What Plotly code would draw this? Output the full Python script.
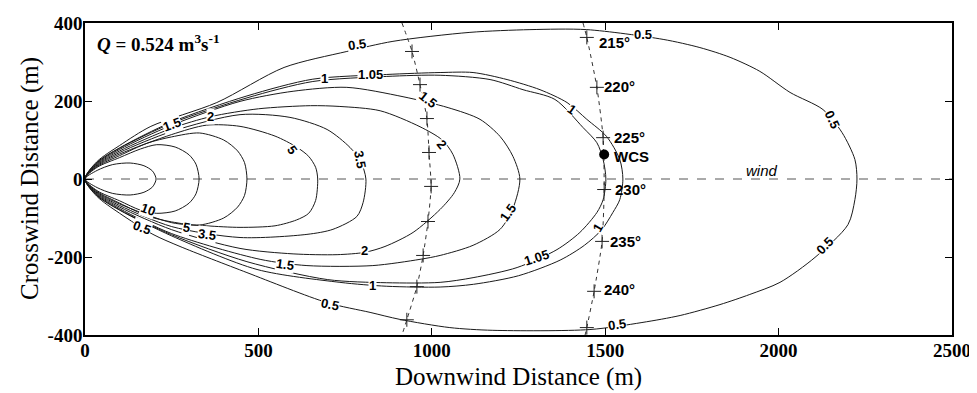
import plotly.graph_objects as go

# ---------------- data ----------------
# contour outlines: (x_upper, y_upper, x_lower, y_lower)
A_xu = [0, 35, 80, 130, 170, 195, 205]
A_yu = [0, 22, 37, 41, 34, 20, 0]
A_xl = [0, 35, 80, 130, 170, 195, 205]
A_yl = [0, -22, -37, -41, -34, -20, 0]

B_xu = [0, 35, 100, 160, 207, 260, 300, 320, 329]
B_yu = [0, 30, 55, 77, 88, 82, 62, 38, 0]
B_xl = [0, 35, 100, 160, 207, 260, 300, 320, 329]
B_yl = [0, -30, -56, -80, -88, -82, -62, -38, 0]

C_xu = [0, 35, 100, 180, 250, 330, 400, 440, 460, 467]
C_yu = [0, 32, 60, 92, 108, 118, 100, 72, 42, 0]
C_xl = [0, 35, 100, 180, 250, 330, 400, 440, 460, 467]
C_yl = [0, -32, -62, -95, -110, -118, -100, -72, -42, 0]

D_xu = [0, 35, 100, 250, 350, 447, 548, 610, 645, 665, 671]
D_yu = [0, 34, 64, 114, 138, 135, 110, 82, 58, 30, 0]
D_xl = [0, 35, 100, 250, 350, 447, 548, 610, 645, 665, 671]
D_yl = [0, -34, -64, -112, -120, -124, -120, -105, -88, -55, 0]

E_xu = [0, 35, 100, 250, 447, 591, 698, 764, 795, 810]
E_yu = [0, 36, 68, 122, 165, 158, 127, 81, 45, 0]
E_xl = [0, 35, 100, 250, 447, 640, 715, 784, 802, 810]
E_yl = [0, -36, -68, -122, -150, -142, -129, -96, -60, 0]

F_xu = [0, 35, 100, 250, 363, 500, 650, 735, 851, 966, 1030, 1061, 1081]
F_yu = [0, 38, 72, 130, 160, 180, 188, 186, 175, 134, 100, 63, 0]
F_xl = [0, 35, 100, 250, 447, 600, 727, 807, 865, 946, 1024, 1065, 1081]
F_yl = [0, -38, -72, -130, -178, -192, -194, -188, -173, -137, -78, -35, 0]

G_xu = [0, 35, 100, 250, 447, 600, 755, 917, 1047, 1139, 1197, 1234, 1254]
G_yu = [0, 40, 76, 138, 199, 225, 235, 211, 183, 153, 109, 58, 0]
G_xl = [0, 35, 100, 250, 505, 640, 830, 966, 1024, 1119, 1197, 1234, 1254]
G_yl = [0, -40, -76, -140, -206, -222, -222, -206, -196, -170, -129, -75, 0]

H_xu = [0, 35, 100, 250, 467, 657, 870, 1024, 1168, 1263, 1355, 1436, 1476, 1494, 1502]
H_yu = [0, 42, 79, 143, 208, 250, 263, 266, 255, 229, 204, 132, 93, 50, 0]
H_xl = [0, 35, 100, 250, 467, 700, 870, 1024, 1119, 1246, 1361, 1427, 1476, 1494, 1502]
H_yl = [0, -42, -79, -143, -212, -258, -266, -265, -253, -227, -181, -137, -86, -53, 0]

I_xu = [0, 35, 100, 250, 467, 657, 870, 1024, 1119, 1217, 1312, 1390, 1447, 1504, 1542, 1551]
I_yu = [0, 43, 80, 146, 213, 256, 268, 273, 273, 255, 229, 196, 153, 109, 50, 0]
I_xl = [0, 35, 100, 250, 496, 735, 870, 1024, 1120, 1250, 1370, 1440, 1490, 1522, 1542, 1551]
I_yl = [0, -43, -80, -146, -232, -265, -275, -277, -270, -248, -208, -170, -130, -86, -53, 0]

J_xu = [0, 35, 100, 190, 380, 574, 755, 888, 1110, 1283, 1447, 1667, 1773, 1860, 1946, 2033, 2128, 2183, 2220, 2226]
J_yu = [0, 45, 86, 135, 196, 286, 327, 353, 376, 383, 383, 358, 337, 312, 276, 222, 178, 119, 50, 0]
J_xl = [0, 35, 100, 196, 274, 467, 698, 822, 908, 1052, 1176, 1456, 1606, 1716, 1831, 1917, 2004, 2105, 2200, 2220, 2226]
J_yl = [0, -45, -88, -142, -173, -240, -317, -342, -360, -381, -388, -386, -368, -350, -322, -296, -265, -201, -117, -53, 0]

contours = [
    (A_xu, A_yu, A_xl, A_yl), (B_xu, B_yu, B_xl, B_yl), (C_xu, C_yu, C_xl, C_yl),
    (D_xu, D_yu, D_xl, D_yl), (E_xu, E_yu, E_xl, E_yl), (F_xu, F_yu, F_xl, F_yl),
    (G_xu, G_yu, G_xl, G_yl), (H_xu, H_yu, H_xl, H_yl), (I_xu, I_yu, I_xl, I_yl),
    (J_xu, J_yu, J_xl, J_yl),
]

# contour labels: text, x, y, angle
label_text = ["0.5", "1", "1.05", "1.5", "2", "5", "3.5", "1.5", "2", "1", "0.5", "0.5",
              "10", "0.5", "5", "3.5", "1.5", "2", "1", "0.5", "1.5", "1.05", "1", "0.5", "0.5"]
label_x = [784, 692, 822, 251, 363, 597, 793, 989, 1029, 1404, 1609, 2154,
           182, 164, 294, 352, 577, 807, 830, 706, 1220, 1303, 1479, 1534, 2134]
label_y = [345, 258, 268, 140, 161, 76, 50, 204, 88, 178, 370, 152,
           -78, -124, -124, -142, -219, -183, -273, -322, -86, -201, -124, -373, -171]
label_angle = [-8, 0, 0, -20, 0, 55, 80, 38, 50, 35, 0, 65,
               20, 20, 10, 8, 8, 0, 0, 12, -55, -18, -60, -8, -45]

# wind-direction arcs
arc1_x = [914, 943, 966, 986, 992, 998, 989, 975, 957, 928, 914]
arc1_y = [400, 327, 242, 155, 68, -19, -109, -196, -276, -361, -400]
arc1_marks = [1, 2, 3, 4, 5, 6, 7, 8, 9]
arc2_x = [1436, 1447, 1476, 1494, 1497, 1491, 1468, 1447, 1442]
arc2_y = [400, 363, 235, 106, -27, -160, -288, -381, -400]
arc2_marks = [1, 2, 3, 4, 5, 6, 7]
dir_labels = ["215°", "220°", "225°", "230°", "235°", "240°"]
dir_x = [1476, 1491, 1520, 1522, 1508, 1491]
dir_y = [350, 237, 106, -27, -160, -283]

wcs_x, wcs_y = [1497], [63]

x_ticks = [0, 500, 1000, 1500, 2000, 2500]
x_ticktext = ["0", "500", "1000", "1500", "2000", "2500"]
y_ticks = [-400, -200, 0, 200, 400]
y_ticktext = ["-400", "-200", "0", "200", "400"]

# ---------------- figure ----------------
fig = go.Figure()
LC = "#1a1a1a"

fig.add_trace(go.Scatter(x=[0, 2500], y=[0, 0], mode="lines",
                         line=dict(color="#555", width=1, dash="dash"),
                         hoverinfo="skip", showlegend=False))

for xu, yu, xl, yl in contours:
    xs = list(xu) + list(reversed(xl))[1:]
    ys = list(yu) + list(reversed(yl))[1:]
    fig.add_trace(go.Scatter(x=xs, y=ys, mode="lines",
                             line=dict(color=LC, width=1, shape="spline", smoothing=0.8),
                             hoverinfo="skip", showlegend=False))

for ax_, ay_, marks in [(arc1_x, arc1_y, arc1_marks), (arc2_x, arc2_y, arc2_marks)]:
    fig.add_trace(go.Scatter(x=ax_, y=ay_, mode="lines",
                             line=dict(color="#333", width=1, dash="4px,4px", shape="spline", smoothing=0.6),
                             hoverinfo="skip", showlegend=False))
    fig.add_trace(go.Scatter(x=[ax_[i] for i in marks], y=[ay_[i] for i in marks], mode="markers",
                             marker=dict(symbol="cross-thin", size=10, line=dict(color="#222", width=1)),
                             hoverinfo="skip", showlegend=False))

fig.add_trace(go.Scatter(x=wcs_x, y=wcs_y, mode="markers",
                         marker=dict(color="black", size=10), showlegend=False))

annotations = []
for t, x, y, a in zip(label_text, label_x, label_y, label_angle):
    annotations.append(dict(x=x, y=y, text=t, showarrow=False, textangle=a,
                            bgcolor="white", borderpad=0,
                            font=dict(family="Liberation Sans", size=13, color="black", weight="bold")))
for t, x, y in zip(dir_labels, dir_x, dir_y):
    annotations.append(dict(x=x, y=y, text=t, showarrow=False, xanchor="left",
                            font=dict(family="Liberation Sans", size=15, color="black", weight="bold")))
annotations.append(dict(x=1520, y=57, text="WCS", showarrow=False, xanchor="left",
                        font=dict(family="Liberation Sans", size=15, color="black", weight="bold")))
annotations.append(dict(x=1952, y=22, text="<i>wind</i>", showarrow=False,
                        font=dict(family="Liberation Sans", size=15, color="black")))
annotations.append(dict(x=30, y=350, text="<i>Q</i> = 0.524 m<sup>3</sup>s<sup>-1</sup>", showarrow=False,
                        xanchor="left",
                        font=dict(family="Liberation Serif", size=19, color="black", weight="bold")))
# axis titles
annotations.append(dict(xref="paper", yref="paper", x=0.5, y=0, yshift=-42, yanchor="middle",
                        text="Downwind Distance (m)", showarrow=False,
                        font=dict(family="Liberation Serif", size=25, color="black")))
annotations.append(dict(xref="paper", yref="paper", x=0, xshift=-55, y=0.5, xanchor="center",
                        text="Crosswind Distance (m)", showarrow=False, textangle=-90,
                        font=dict(family="Liberation Serif", size=25, color="black")))

axis_common = dict(showgrid=False, zeroline=False, showline=True, linecolor="black", linewidth=1.5,
                   mirror="ticks", ticks="inside", ticklen=7, tickwidth=1, tickcolor="black",
                   automargin=False, ticklabelstandoff=-3,
                   tickfont=dict(family="Liberation Serif", size=19, color="black", weight="bold"))

# page body adds an 8px offset; margins chosen so the plot lands where the reference has it
fig.update_layout(
    width=977, height=393,
    margin=dict(l=77, r=33, t=15, b=66),
    plot_bgcolor="white", paper_bgcolor="white",
    showlegend=False,
    annotations=annotations,
    xaxis=dict(range=[0, 2500], tickvals=x_ticks, ticktext=x_ticktext, **axis_common),
    yaxis=dict(range=[-400, 400], tickvals=y_ticks, ticktext=y_ticktext, **axis_common),
)

fig.write_html("out.html")
